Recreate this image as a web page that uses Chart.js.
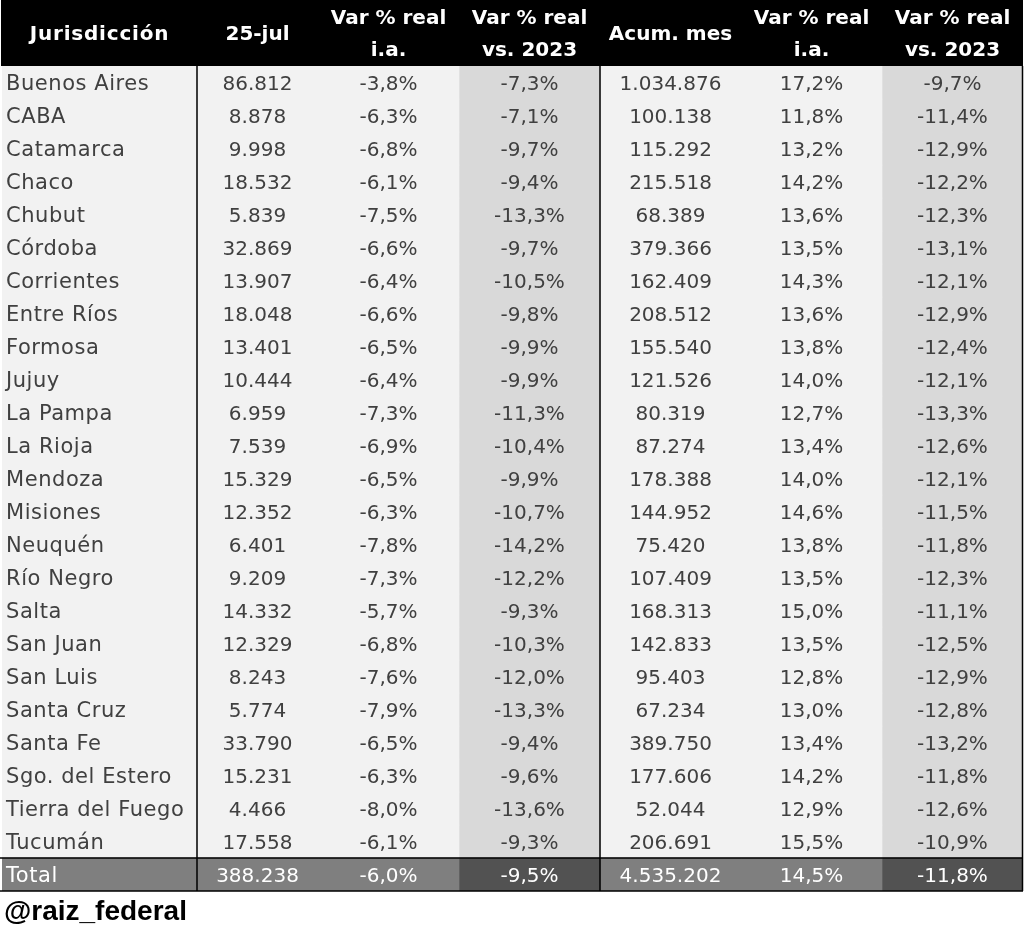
<!DOCTYPE html>
<html><head><meta charset="utf-8">
<script src="https://cdn.jsdelivr.net/npm/chart.js@4"></script>
<style>html,body{margin:0;padding:0;background:#fff;}canvas{display:block}</style>
</head><body>
<canvas id="c" width="1024" height="928"></canvas>
<script>
// ---------- DATA ----------
const jurisdicciones = ["Buenos Aires","CABA","Catamarca","Chaco","Chubut","Córdoba","Corrientes","Entre Ríos","Formosa","Jujuy","La Pampa","La Rioja","Mendoza","Misiones","Neuquén","Río Negro","Salta","San Juan","San Luis","Santa Cruz","Santa Fe","Sgo. del Estero","Tierra del Fuego","Tucumán","Total"];
const recaudacion25jul = [86812,8878,9998,18532,5839,32869,13907,18048,13401,10444,6959,7539,15329,12352,6401,9209,14332,12329,8243,5774,33790,15231,4466,17558,388238];
const varRealIa25jul = [-3.8,-6.3,-6.8,-6.1,-7.5,-6.6,-6.4,-6.6,-6.5,-6.4,-7.3,-6.9,-6.5,-6.3,-7.8,-7.3,-5.7,-6.8,-7.6,-7.9,-6.5,-6.3,-8.0,-6.1,-6.0];
const varReal2023_25jul = [-7.3,-7.1,-9.7,-9.4,-13.3,-9.7,-10.5,-9.8,-9.9,-9.9,-11.3,-10.4,-9.9,-10.7,-14.2,-12.2,-9.3,-10.3,-12.0,-13.3,-9.4,-9.6,-13.6,-9.3,-9.5];
const acumMes = [1034876,100138,115292,215518,68389,379366,162409,208512,155540,121526,80319,87274,178388,144952,75420,107409,168313,142833,95403,67234,389750,177606,52044,206691,4535202];
const varRealIaAcum = [17.2,11.8,13.2,14.2,13.6,13.5,14.3,13.6,13.8,14.0,12.7,13.4,14.0,14.6,13.8,13.5,15.0,13.5,12.8,13.0,13.4,14.2,12.9,15.5,14.5];
const varReal2023Acum = [-9.7,-11.4,-12.9,-12.2,-12.3,-13.1,-12.1,-12.9,-12.4,-12.1,-13.3,-12.6,-12.1,-11.5,-11.8,-12.3,-11.1,-12.5,-12.9,-12.8,-13.2,-11.8,-12.6,-10.9,-11.8];
const encabezados = [["Jurisdicción"],["25-jul"],["Var % real","i.a."],["Var % real","vs. 2023"],["Acum. mes"],["Var % real","i.a."],["Var % real","vs. 2023"]];
const fuente = "@raiz_federal";

// ---------- LAYOUT / STYLE ----------
const colEdges = [0,195,316,457,598,739,880,1021];
const colKinds = ["text","num","pct","pct","num","pct","pct"];
const colBg = ["#f2f2f2","#f2f2f2","#f2f2f2","#d9d9d9","#f2f2f2","#f2f2f2","#d9d9d9"];
const colBgTotal = ["#7f7f7f","#7f7f7f","#7f7f7f","#525252","#7f7f7f","#7f7f7f","#525252"];
const FONT = '"DejaVu Sans", sans-serif';

const columnas = [jurisdicciones, recaudacion25jul, varRealIa25jul, varReal2023_25jul, acumMes, varRealIaAcum, varReal2023Acum];
const fmtNum = n => String(n).replace(/\B(?=(\d{3})+(?!\d))/g, '.');
const fmtPct = v => v.toFixed(1).replace('.', ',') + '%';
const fmt = (kind, v) => kind === 'text' ? v : kind === 'num' ? fmtNum(v) : fmtPct(v);
const lastRow = jurisdicciones.length - 1;

const datasets = colEdges.slice(0, -1).map((e, c) => ({
  label: encabezados[c].join(' '),
  data: jurisdicciones.map(() => [colEdges[c], colEdges[c + 1]]),
  backgroundColor: jurisdicciones.map((_, r) => r === lastRow ? colBgTotal[c] : colBg[c]),
  borderWidth: 0,
  barPercentage: 1,
  categoryPercentage: 1,
  grouped: false
}));

const tablePlugin = {
  id: 'tablePlugin',
  afterDatasetsDraw(chart) {
    const {ctx, chartArea, scales: {x, y}} = chart;
    const band = y.getPixelForValue(1) - y.getPixelForValue(0);
    const left = x.getPixelForValue(colEdges[0]);
    const right = x.getPixelForValue(colEdges[colEdges.length - 1]);
    ctx.save();
    // header
    ctx.fillStyle = '#000';
    ctx.fillRect(left - 1, 0, right - left + 1, chartArea.top);
    ctx.fillStyle = '#fff';
    ctx.textAlign = 'center';
    ctx.textBaseline = 'middle';
    encabezados.forEach((lines, c) => {
      const cx = x.getPixelForValue((colEdges[c] + colEdges[c + 1]) / 2);
      const mid = chartArea.top / 2;
      ctx.font = 'bold 20px ' + FONT;
      ctx.letterSpacing = c === 0 ? '0.8px' : '0px';
      if (lines.length === 1) ctx.fillText(lines[0], cx, mid + 2);
      else { ctx.fillText(lines[0], cx, mid - 14); ctx.fillText(lines[1], cx, mid + 18); }
    });
    // cells
    columnas.forEach((col, c) => {
      const kind = colKinds[c];
      col.forEach((v, r) => {
        const cy = y.getPixelForValue(r) + 2;
        ctx.fillStyle = r === lastRow ? '#ffffff' : '#404040';
        if (kind === 'text') {
          ctx.font = '21px ' + FONT;
          ctx.textAlign = 'left';
          ctx.letterSpacing = '0.55px';
          ctx.fillText(fmt(kind, v), x.getPixelForValue(colEdges[c]) + 4, cy);
        } else {
          ctx.font = '20px ' + FONT;
          ctx.textAlign = 'center';
          ctx.letterSpacing = '0px';
          ctx.fillText(fmt(kind, v), x.getPixelForValue((colEdges[c] + colEdges[c + 1]) / 2), cy);
        }
      });
    });
    ctx.letterSpacing = '0px';
    // borders
    ctx.strokeStyle = '#000';
    ctx.lineWidth = 1.5;
    ctx.beginPath();
    [colEdges[1], colEdges[4]].forEach(e => {
      const px = x.getPixelForValue(e);
      ctx.moveTo(px, chartArea.top); ctx.lineTo(px, chartArea.bottom);
    });
    ctx.moveTo(right - 0.5, chartArea.top); ctx.lineTo(right - 0.5, chartArea.bottom);
    const totTop = y.getPixelForValue(lastRow) - band / 2;
    ctx.moveTo(0, totTop); ctx.lineTo(right, totTop);
    ctx.moveTo(0, chartArea.bottom); ctx.lineTo(right, chartArea.bottom);
    ctx.stroke();
    // footer
    ctx.fillStyle = '#000';
    ctx.font = 'bold 28px "Liberation Sans", Arial, sans-serif';
    ctx.textAlign = 'left';
    ctx.textBaseline = 'alphabetic';
    ctx.fillText(fuente, 4, chartArea.bottom + 29);
    ctx.restore();
  }
};

new Chart(document.getElementById('c'), {
  type: 'bar',
  data: { labels: jurisdicciones, datasets },
  options: {
    indexAxis: 'y',
    responsive: false,
    animation: false,
    events: [],
    layout: { padding: { left: 2, right: 1, top: 66, bottom: 37 } },
    plugins: { legend: { display: false }, tooltip: { enabled: false } },
    scales: {
      x: { type: 'linear', min: colEdges[0], max: colEdges[colEdges.length - 1], display: false },
      y: { type: 'category', display: false, offset: true }
    }
  },
  plugins: [tablePlugin]
});
</script>
</body></html>
